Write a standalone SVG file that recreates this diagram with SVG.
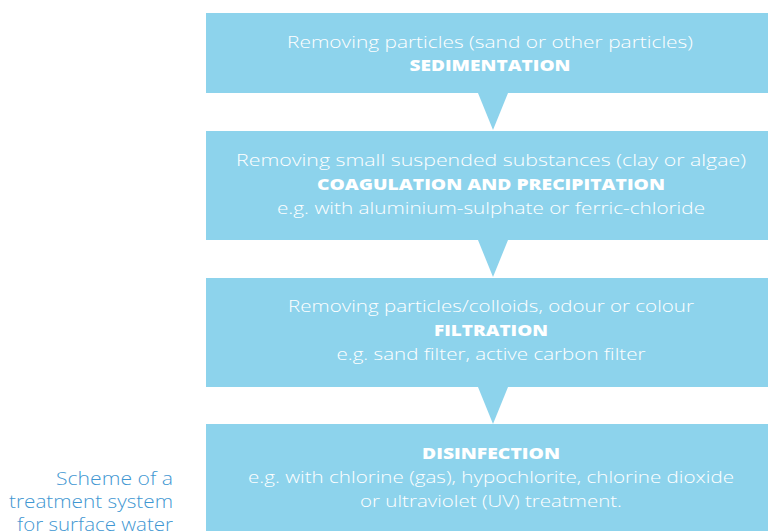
<svg xmlns="http://www.w3.org/2000/svg" width="768" height="531" viewBox="0 0 768 531">
<style>
.box{fill:#8dd3ec}
.t{font-family:"Open Sans","DejaVu Sans",sans-serif;font-weight:300;font-size:17px;fill:#ffffff;text-anchor:middle}
.b{font-family:"Open Sans","DejaVu Sans",sans-serif;font-weight:800;font-size:16.5px;fill:#ffffff;text-anchor:middle}
.cap{font-family:"Open Sans","DejaVu Sans",sans-serif;font-weight:300;font-size:17.5px;fill:#3f97d2;text-anchor:end}
</style>
<rect width="768" height="531" fill="#ffffff"/>
<g id="connectors">
<polygon class="box" points="478,93 508,93 493,130"/>
<polygon class="box" points="478,240 508,240 493,277"/>
<polygon class="box" points="478,387 508,387 493,424"/>
</g>
<g id="sedimentation">
<rect class="box" x="206" y="13" width="570" height="80"/>
<text class="t" x="490" y="48" textLength="406" lengthAdjust="spacingAndGlyphs">Removing particles (sand or other particles)</text>
<text class="b" x="490" y="71" textLength="161" lengthAdjust="spacingAndGlyphs">SEDIMENTATION</text>
</g>
<g id="coagulation">
<rect class="box" x="206" y="131" width="570" height="109"/>
<text class="t" x="491" y="166" textLength="510" lengthAdjust="spacingAndGlyphs">Removing small suspended substances (clay or algae)</text>
<text class="b" x="491" y="190" textLength="348" lengthAdjust="spacingAndGlyphs">COAGULATION AND PRECIPITATION</text>
<text class="t" x="491" y="214" textLength="428" lengthAdjust="spacingAndGlyphs">e.g. with aluminium-sulphate or ferric-chloride</text>
</g>
<g id="filtration">
<rect class="box" x="206" y="278" width="570" height="109"/>
<text class="t" x="491" y="312" textLength="406" lengthAdjust="spacingAndGlyphs">Removing particles/colloids, odour or colour</text>
<text class="b" x="491" y="336" textLength="114" lengthAdjust="spacingAndGlyphs">FILTRATION</text>
<text class="t" x="491" y="360" textLength="309" lengthAdjust="spacingAndGlyphs">e.g. sand filter, active carbon filter</text>
</g>
<g id="disinfection">
<rect class="box" x="206" y="424" width="570" height="107"/>
<text class="b" x="491" y="459" textLength="138" lengthAdjust="spacingAndGlyphs">DISINFECTION</text>
<text class="t" x="491" y="483" textLength="486" lengthAdjust="spacingAndGlyphs">e.g. with chlorine (gas), hypochlorite, chlorine dioxide</text>
<text class="t" x="491" y="507" textLength="262" lengthAdjust="spacingAndGlyphs">or ultraviolet (UV) treatment.</text>
</g>
<g id="caption">
<text class="cap" x="173" y="485" textLength="117" lengthAdjust="spacingAndGlyphs">Scheme of a</text>
<text class="cap" x="173" y="508" textLength="164" lengthAdjust="spacingAndGlyphs">treatment system</text>
<text class="cap" x="173" y="531" textLength="156" lengthAdjust="spacingAndGlyphs">for surface water</text>
</g>
</svg>
